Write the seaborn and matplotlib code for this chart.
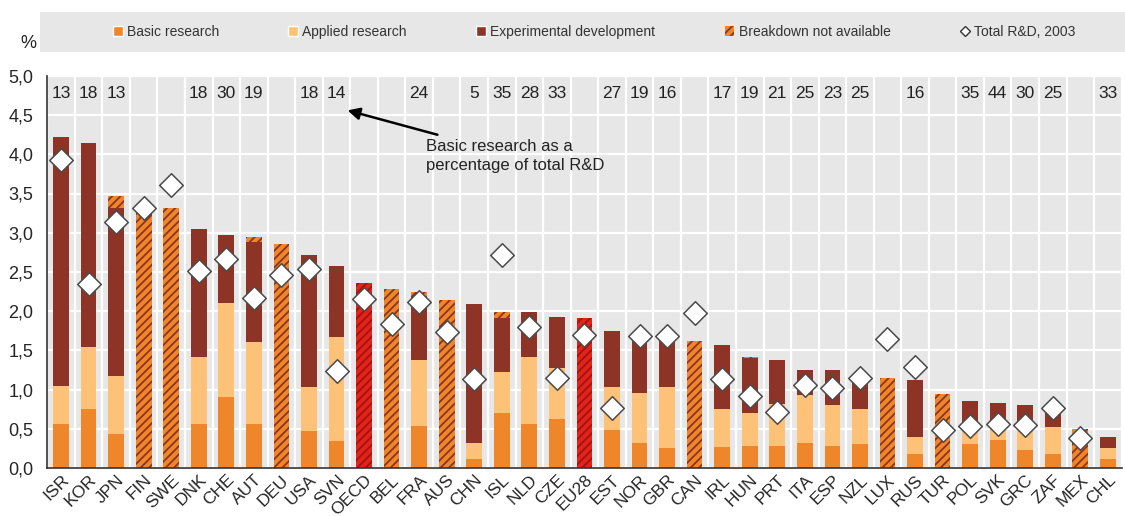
import numpy as np
import pandas as pd
import seaborn as sns
import matplotlib.pyplot as plt
from matplotlib.patches import Patch, Rectangle
from matplotlib.lines import Line2D
from matplotlib.ticker import FuncFormatter, MultipleLocator

countries = ['ISR', 'KOR', 'JPN', 'FIN', 'SWE', 'DNK', 'CHE', 'AUT', 'DEU', 'USA',
             'SVN', 'OECD', 'BEL', 'FRA', 'AUS', 'CHN', 'ISL', 'NLD', 'CZE', 'EU28',
             'EST', 'NOR', 'GBR', 'CAN', 'IRL', 'HUN', 'PRT', 'ITA', 'ESP', 'NZL',
             'LUX', 'RUS', 'TUR', 'POL', 'SVK', 'GRC', 'ZAF', 'MEX', 'CHL']
nan = np.nan
# R&D as % of GDP, by type
basic = [0.56, 0.75, 0.44, nan, nan, 0.56, 0.90, 0.56, nan, 0.47,
         0.35, nan, nan, 0.54, nan, 0.11, 0.70, 0.56, 0.63, nan,
         0.48, 0.32, 0.25, nan, 0.27, 0.28, 0.28, 0.32, 0.28, 0.30,
         nan, 0.18, nan, 0.30, 0.36, 0.23, 0.18, nan, 0.12]
applied = [0.48, 0.79, 0.73, nan, nan, 0.85, 1.21, 1.05, nan, 0.56,
           1.32, nan, nan, 0.84, nan, 0.21, 0.52, 0.85, 0.64, nan,
           0.55, 0.64, 0.78, nan, 0.48, 0.42, 0.53, 0.61, 0.52, 0.45,
           nan, 0.21, nan, 0.18, 0.15, 0.28, 0.34, nan, 0.14]
experimental = [3.18, 2.61, 2.14, nan, nan, 1.64, 0.86, 1.27, nan, 1.69,
                0.90, nan, nan, 0.81, nan, 1.77, 0.69, 0.58, 0.66, nan,
                0.72, 0.70, 0.62, nan, 0.82, 0.70, 0.57, 0.32, 0.45, 0.39,
                nan, 0.73, nan, 0.38, 0.32, 0.29, 0.21, nan, 0.13]
not_available = [0.00, 0.00, 0.16, 3.28, 3.32, 0.00, 0.00, 0.07, 2.86, 0.00,
                 0.00, 2.36, 2.28, 0.05, 2.14, 0.00, 0.08, 0.00, 0.00, 1.91,
                 0.00, 0.00, 0.00, 1.62, 0.00, 0.01, 0.00, 0.00, 0.00, 0.00,
                 1.15, 0.00, 0.95, 0.00, 0.00, 0.00, 0.00, 0.50, 0.00]
total_2003 = [3.93, 2.35, 3.14, 3.31, 3.61, 2.51, 2.67, 2.17, 2.46, 2.54,
              1.24, 2.15, 1.84, 2.12, 1.73, 1.13, 2.72, 1.80, 1.15, 1.70,
              0.77, 1.68, 1.68, 1.98, 1.13, 0.92, 0.71, 1.06, 1.02, 1.15,
              1.65, 1.29, 0.49, 0.53, 0.56, 0.55, 0.76, 0.38, nan]
basic_share = ['13', '18', '13', '', '', '18', '30', '19', '', '18',
               '14', '', '', '24', '', '5', '35', '28', '33', '',
               '27', '19', '16', '', '17', '19', '21', '25', '23', '25',
               '', '16', '', '35', '44', '30', '25', '', '33']
aggregates = ['OECD', 'EU28']

df = pd.DataFrame({'country': countries, 'basic': basic, 'applied': applied,
                   'experimental': experimental, 'not_available': not_available,
                   'total_2003': total_2003})
df['lvl_basic'] = df['basic']
df['lvl_applied'] = df['basic'] + df['applied']
df['lvl_exp'] = df['lvl_applied'] + df['experimental']
df['lvl_total'] = df[['basic', 'applied', 'experimental', 'not_available']].fillna(0).sum(axis=1)

c_basic = '#F0862A'
c_applied = '#FDC277'
c_exp = '#8E3426'
c_red = '#E0231B'

sns.set_style('white')
plt.rcParams['font.family'] = ['Liberation Sans', 'DejaVu Sans']
plt.rcParams['hatch.linewidth'] = 1.3

fig = plt.figure(figsize=(11.25, 5.16), dpi=100)
ax = fig.add_axes([0.042, 0.093, 0.955, 0.760])
ax.set_facecolor('#E7E7E7')

# hatched layer = full total, breakdown layers drawn over it
pal = {c: (c_red if c in aggregates else c_basic) for c in countries}
sns.barplot(data=df, x='country', y='lvl_total', hue='country', palette=pal, order=countries,
            hue_order=countries, legend=False, width=0.57, errorbar=None, saturation=1,
            linewidth=0, ax=ax)
for p, c in zip(ax.patches, countries):
    hc = '#A3120E' if c in aggregates else '#8C3322'
    p.set_hatch('////')
    p.set_edgecolor(hc)
    if hasattr(p, 'set_hatchcolor'):
        p.set_hatchcolor(hc)
    p.set_linewidth(0)

for col, colr in [('lvl_exp', c_exp), ('lvl_applied', c_applied), ('lvl_basic', c_basic)]:
    sns.barplot(data=df, x='country', y=col, order=countries, color=colr, width=0.57,
                errorbar=None, saturation=1, linewidth=0, ax=ax)

sns.stripplot(data=df, x='country', y='total_2003', order=countries, jitter=False, marker='D',
              size=12, color='white', edgecolor='#4A4A4A', linewidth=1.1, ax=ax, zorder=5)

for i, s in enumerate(basic_share):
    ax.text(i, 4.77, s, ha='center', va='center', fontsize=12.5, color='#222222')

ax.annotate('Basic research as a\npercentage of total R&D', xy=(10.4, 4.56), xytext=(13.25, 3.98),
            ha='left', va='center', fontsize=12, color='#222222', linespacing=1.35,
            arrowprops=dict(arrowstyle='-|>', color='black', lw=1.8, mutation_scale=18,
                            shrinkA=2, shrinkB=0))

ax.set_xlim(-0.5, len(countries) - 0.5)
ax.set_ylim(0, 5)
ax.yaxis.set_major_locator(MultipleLocator(0.5))
ax.yaxis.set_major_formatter(FuncFormatter(lambda v, _: f'{v:.1f}'.replace('.', ',')))
ax.set_xticks(np.arange(-0.5, len(countries)), minor=True)
ax.set_axisbelow(True)
ax.yaxis.grid(True, color='white', lw=1.6)
ax.xaxis.grid(True, which='minor', color='white', lw=1.6)
ax.xaxis.grid(False, which='major')
ax.tick_params(axis='x', which='major', length=0, labelsize=12.5, pad=3)
ax.tick_params(axis='x', which='minor', length=5, direction='in', color='#333333', width=1)
ax.tick_params(axis='y', length=4, direction='in', color='#333333', labelsize=13, pad=10)
plt.setp(ax.get_xticklabels(), rotation=45, ha='right', rotation_mode='anchor')
for sp in ['top', 'right']:
    ax.spines[sp].set_visible(False)
for sp in ['left', 'bottom']:
    ax.spines[sp].set_color('#333333')
    ax.spines[sp].set_linewidth(1.2)
ax.set_xlabel('')
ax.set_ylabel('')

fig.text(0.018, 0.915, '%', fontsize=13, color='#222222', ha='left', va='center')
fig.add_artist(Rectangle((0.0356, 0.899), 0.9644, 0.078, transform=fig.transFigure,
                         facecolor='#E7E7E7', edgecolor='none'))
handles = [
    Patch(facecolor=c_basic, label='Basic research'),
    Patch(facecolor=c_applied, label='Applied research'),
    Patch(facecolor=c_exp, label='Experimental development'),
    Patch(facecolor=c_basic, edgecolor='#8C3322', hatch='////', lw=0, label='Breakdown not available'),
    Line2D([], [], marker='D', ls='', mfc='white', mec='#333333', ms=5, mew=1, label='Total R&D, 2003'),
]
fig.legend(handles=handles, loc='center', bbox_to_anchor=(0.528, 0.938), ncol=5, frameon=False,
           fontsize=10, handlelength=0.7, handleheight=0.7, handletextpad=0.3, columnspacing=5.0,
           labelcolor='#333333')

fig.savefig('out.png', dpi=100)
